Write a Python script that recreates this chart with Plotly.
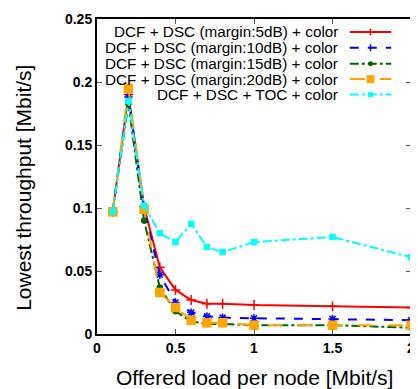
import plotly.graph_objects as go

x_load = [0.1, 0.2, 0.3, 0.4, 0.5, 0.6, 0.7, 0.8, 1.0, 1.5, 2.0]

names = [
    "DCF + DSC (margin:5dB) + color",
    "DCF + DSC (margin:10dB) + color",
    "DCF + DSC (margin:15dB) + color",
    "DCF + DSC (margin:20dB) + color",
    "DCF + DSC + TOC + color",
]
y_m5 = [0.097, 0.190, 0.101, 0.053, 0.035, 0.027, 0.024, 0.024, 0.023, 0.022, 0.021]
y_m10 = [0.097, 0.188, 0.099, 0.047, 0.025, 0.017, 0.014, 0.013, 0.0125, 0.012, 0.011]
y_m15 = [0.097, 0.183, 0.090, 0.037, 0.018, 0.010, 0.008, 0.008, 0.007, 0.007, 0.005]
y_m20 = [0.097, 0.195, 0.099, 0.033, 0.021, 0.011, 0.009, 0.009, 0.007, 0.007, 0.007]
y_toc = [0.097, 0.185, 0.102, 0.080, 0.073, 0.0875, 0.069, 0.065, 0.073, 0.077, 0.061]

series = [y_m5, y_m10, y_m15, y_m20, y_toc]
colors = ["#ff0000", "#0000ff", "#006400", "#ffa500", "#00ffff"]
dashes = ["solid", "dash", "dashdot", "longdash", "dashdot"]
symbols = ["cross-thin", "asterisk", "circle", "square", "square"]
msizes = [7, 7, 5, 8, 5]

x_ticks = [0, 0.5, 1, 1.5, 2]
x_ticklabels = ["0", "0.5", "1", "1.5", "2"]
y_ticks = [0, 0.05, 0.1, 0.15, 0.2, 0.25]
y_ticklabels = ["0", "0.05", "0.1", "0.15", "0.2", "0.25"]

x_title = "Offered load per node [Mbit/s]"
y_title = "Lowest throughput [Mbit/s]"

FONT = "Liberation Sans, Arial, Helvetica"

fig = go.Figure()
for name, ys, c, d, s, ms in zip(names, series, colors, dashes, symbols, msizes):
    fig.add_trace(go.Scatter(
        x=x_load, y=ys, name=name, mode="lines+markers",
        line=dict(color=c, width=2, dash=d),
        marker=dict(symbol=s, size=ms, color=c, line=dict(color=c, width=1.5)),
        showlegend=False, cliponaxis=False,
    ))

# page has an 8px body margin: the figure is drawn 8px right/down
OFF = 8
W, H = 418 - OFF, 389 - OFF
# plot area in page pixels
L, R, T, B = 97, 415, 17, 334

def px(xp):
    return (xp - L) / (R - L)

def py(yp):
    return (B - yp) / (B - T)

# custom legend (text right-aligned, sample on the right) like gnuplot
rows = [30, 46, 62, 77.5, 93]
for name, c, d, s, ms, yr in zip(names, colors, dashes, symbols, msizes, rows):
    fig.add_annotation(x=px(343), y=py(yr), xref="paper", yref="paper",
                       text=name, showarrow=False, xanchor="right", yanchor="middle",
                       font=dict(family=FONT, size=15.3, color="black"))
    fig.add_shape(type="line", xref="paper", yref="paper",
                  x0=px(353), x1=px(395), y0=py(yr), y1=py(yr),
                  line=dict(color=c, width=2, dash=d))
    r = ms / 2.0
    if s == "square":
        fig.add_shape(type="rect", xref="paper", yref="paper",
                      x0=px(374 - r), x1=px(374 + r), y0=py(yr - r), y1=py(yr + r),
                      fillcolor=c, line=dict(color=c, width=0))
    elif s == "circle":
        fig.add_shape(type="circle", xref="paper", yref="paper",
                      x0=px(374 - r), x1=px(374 + r), y0=py(yr - r), y1=py(yr + r),
                      fillcolor=c, line=dict(color=c, width=0))
    else:
        fig.add_shape(type="line", xref="paper", yref="paper",
                      x0=px(374), x1=px(374), y0=py(yr - r), y1=py(yr + r),
                      line=dict(color=c, width=1.5))

# axis titles as annotations for precise placement
fig.add_annotation(x=px(256), y=py(378), xref="paper", yref="paper",
                   text=x_title, showarrow=False, xanchor="center", yanchor="middle",
                   font=dict(family=FONT, size=21, color="black"))
fig.add_annotation(x=px(23), y=py(187), xref="paper", yref="paper",
                   text=y_title, showarrow=False, xanchor="center", yanchor="middle",
                   textangle=-90, font=dict(family=FONT, size=21, color="black"))

axis_common = dict(
    showgrid=False, zeroline=False, showline=True, linecolor="black", linewidth=2,
    mirror="allticks", ticks="inside", ticklen=5, tickcolor="#555555", tickwidth=1,
    ticklabeloverflow="allow",
    tickfont=dict(family=FONT, size=14, color="black", weight="bold"),
)

fig.update_layout(
    width=W, height=H,
    margin=dict(l=L - OFF, r=418 - R, t=T - OFF, b=389 - B),
    paper_bgcolor="white", plot_bgcolor="white",
    xaxis=dict(range=[0, 2], tickvals=x_ticks, ticktext=x_ticklabels, **axis_common),
    yaxis=dict(range=[0, 0.25], tickvals=y_ticks, ticktext=y_ticklabels, **axis_common),
)

fig.write_html("out.html")
